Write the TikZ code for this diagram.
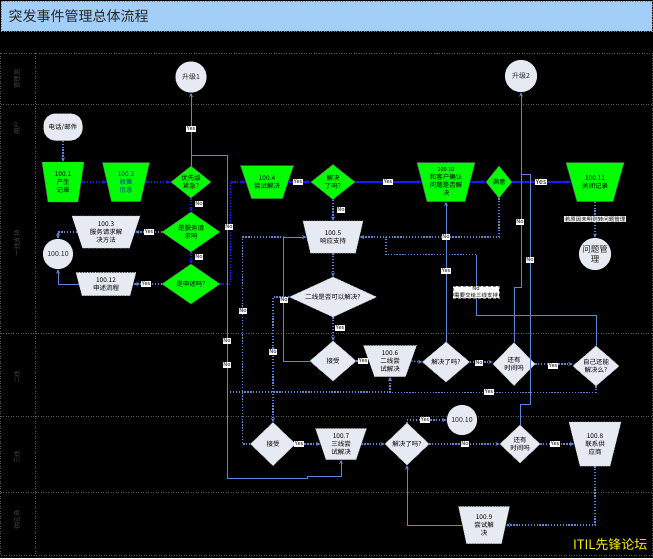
\documentclass[tikz,border=0pt]{standalone}
\usepackage{fontspec}
\setmainfont{Noto Sans CJK SC}
\usetikzlibrary{arrows.meta}
\definecolor{lblue}{HTML}{5A86DC}
\definecolor{gfill}{HTML}{00FF00}
\definecolor{lfill}{HTML}{E6EAF2}
\definecolor{tbar}{HTML}{A3CEF8}
\definecolor{gridc}{HTML}{5A5A5A}
\definecolor{lanetxt}{HTML}{444444}
\definecolor{bblue}{HTML}{1A1AFF}
\definecolor{navytxt}{HTML}{1030B0}
\tikzset{
 txt/.style={inner sep=0pt, align=center, font=\fontsize{6.5}{8}\selectfont, text=black},
 gshape/.style={fill=gfill, draw=black!60, line width=0.4pt},
 lshape/.style={fill=lfill, draw=white!60!gray, densely dotted, line width=0.6pt},
 circ/.style={circle, fill=lfill, draw=white!60!gray, densely dotted, inner sep=0pt, align=center, font=\fontsize{7}{8.5}\selectfont, text=black!85},
 ls/.style={draw=lblue, line width=0.8pt},
 ld/.style={draw=lblue, line width=1.3pt, dash pattern=on 1.3pt off 1.6pt},
 bl/.style={draw=bblue, line width=1.1pt},
 bd/.style={draw=bblue, line width=1.3pt, dash pattern=on 1.3pt off 1.6pt},
 arr/.style={-{Stealth[length=4.5pt,width=4pt]}},
 lbl/.style={fill=white, text=black, inner sep=0.7pt, font=\fontsize{5.5}{6.5}\selectfont},
 lane/.style={rotate=90, text=lanetxt, font=\fontsize{6.5}{8}\selectfont},
 gridline/.style={draw=gridc, dash pattern=on 1pt off 1.5pt, line width=0.6pt},
}
\newcommand\bt[1]{\textcolor{navytxt}{#1}}
% trapezoid: style, name, x, y, top width, bottom width, height, text
\newcommand\trap[8]{%
 \path[#1] ({#3-#5/2},{#4-#7/2}) -- ({#3+#5/2},{#4-#7/2}) -- ({#3+#6/2},{#4+#7/2}) -- ({#3-#6/2},{#4+#7/2}) -- cycle;
 \node[txt, minimum width={(#5+#6)/2*1pt}, minimum height={#7*1pt}] (#2) at (#3,#4) {#8};}
% diamond: style, name, x, y, width, height, text
\newcommand\dia[7]{%
 \path[#1] ({#3-#5/2},#4) -- (#3,{#4-#6/2}) -- ({#3+#5/2},#4) -- (#3,{#4+#6/2}) -- cycle;
 \node[txt, minimum width={#5*1pt}, minimum height={#6*1pt}] (#2) at (#3,#4) {#7};}
\begin{document}
\begin{tikzpicture}[x=1pt,y=-1pt]
\useasboundingbox (0,0) rectangle (653,558);
\fill[black] (0,0) rectangle (653,558);
% title bar
\fill[tbar] (1,1) rectangle (652,31);
\draw[gridline, draw=gray] (1,1) rectangle (652,31);
\node[anchor=west, font=\fontsize{14}{16}\selectfont, text=black!85] (title) at (5,16) {突发事件管理总体流程};
% frame and lanes
\draw[gridline] (0.5,53) rectangle (652,555);
\draw[gridline] (35,53) -- (35,555);
\draw[gridline] (0.5,104) -- (652,104);
\draw[gridline] (0.5,333) -- (652,333);
\draw[gridline] (0.5,416) -- (652,416);
\draw[gridline] (0.5,492) -- (652,492);
\node[lane] (ln1) at (17,79) {管理层};
\node[lane] (ln2) at (17,128) {用户};
\node[lane] (ln3) at (17,243) {一线支持};
\node[lane] (ln4) at (17,377) {二线};
\node[lane] (ln5) at (17,457) {三线};
\node[lane] (ln6) at (17,520) {供应商};

% shapes
\node[circ, minimum size=31pt] (up1) at (191,77) {升级1};
\node[circ, minimum size=32pt] (up2) at (521,76) {升级2};
\node[txt, rectangle, rounded corners=12pt, fill=lfill, draw=white!60!gray, densely dotted, minimum width=39pt, minimum height=27pt] (phone) at (63,127) {电话/邮件};
\trap{gshape}{n1}{63}{182}{42}{30}{40}{100.1\\产生\\记录}
\trap{gshape}{n2}{126}{182}{47}{29}{39}{\bt{100.2}\\\bt{收集}\\\bt{信息}}
\dia{gshape}{d1}{191}{182}{40}{32}{优先级\\紧急?}
\dia{gshape}{d2}{191}{232}{58}{40}{是服务请\\求吗}
\dia{gshape}{d3}{191}{284}{58}{40}{是申述吗?}
\trap{lshape}{n3}{106}{232}{68}{47}{32}{100.3\\服务请求解\\决方法}
\node[circ, minimum size=30pt] (c10a) at (58,254) {100.10};
\trap{lshape}{n12}{106}{284}{60}{48}{23}{100.12\\申述流程}
\trap{gshape}{n4}{267}{182}{53}{31}{33}{100.4\\尝试解决}
\dia{gshape}{d4}{333}{182}{44}{35}{解决\\了吗?}
\trap{lshape}{n5}{333}{237}{60}{45}{32}{100.5\\响应支持}
\trap{gshape}{n10}{446}{182}{58}{38}{39}{\fontsize{5.5}{7}\selectfont 100.10\\和客户确认\\问题是否解\\决}
\dia{gshape}{d5}{499}{182}{26}{32}{满意}
\trap{gshape}{n11}{595}{182}{58}{36}{39}{100.11\\关闭记录}
\node[circ, minimum size=32pt, font=\fontsize{8.5}{10}\selectfont] (pm) at (595,254) {问题管\\理};
\dia{lshape}{d6}{333}{297}{87}{40}{二线是否可以解决?}
\dia{lshape}{d7}{333}{361}{46}{40}{接受}
\trap{lshape}{n6}{390}{361}{53}{31}{31}{100.6\\二线尝\\试解决}
\dia{lshape}{d8}{446}{362}{47}{40}{解决了吗?}
\dia{lshape}{d9}{514}{364}{42}{43}{还有\\时间吗}
\dia{lshape}{d10}{596}{366}{46}{40}{自己还能\\解决么?}
\dia{lshape}{d11}{273}{444}{45}{43}{接受}
\trap{lshape}{n7}{341}{444}{51}{30}{31}{100.7\\三线尝\\试解决}
\dia{lshape}{d12}{407}{444}{44}{42}{解决了吗?}
\node[circ, minimum size=30pt] (c10b) at (462,420) {100.10};
\dia{lshape}{d13}{520}{444}{40}{38}{还有\\时间吗}
\trap{lshape}{n8}{595}{444}{52}{30}{44}{100.8\\联系供\\应商}
\trap{lshape}{n9}{484}{525}{51}{35}{37}{100.9\\尝试解\\决}

% connectors
\draw[ld,arr] (phone.south) -- (n1.north);
\draw[bd,arr] (n1.east) -- (n2.west);
\draw[bd,arr] (n2.east) -- (d1.west);
\draw[ls,arr] (d1.north) -- (up1.south);
\draw[bd,arr] (d1.south) -- (d2.north);
\draw[bd,arr] (d2.south) -- (d3.north);
\draw[ld,arr] (d2.west) -- (n3.east);
\draw[ld,arr] (d3.west) -- (n12.east);
\draw[ld,arr] (n3.west) -| (c10a.north);
\draw[ls,arr] (n12.west) -| (c10a.south);
\draw[bd,arr] (d3.east) -- ++(10,0) |- (n4.west);
\draw[ls,arr] ([yshift=10pt]d1.north) -| ++(36,323) -- ++(80,0) -- ++(0,-2) -| (n7.south);
\coordinate (j1) at (227,392);
\draw[ld] (j1) -- (n6.south |- j1);
\draw[bl,arr] (n4.east) -- (d4.west);
\draw[bl,arr] (d4.east) -- (n10.west);
\draw[bl,arr] (n10.east) -- (d5.west);
\draw[bl,arr] (d5.east) -- (n11.west);
\draw[ld,arr] (d4.south) -- (n5.north);
\draw[ld,arr] (d5.south) |- (n5.east);
\draw[ld,arr] (n11.south) -- (pm.north);
\draw[ld,arr] (n5.south) -- (d6.north);
\draw[ld,arr] (d6.south) -- (d7.north);
\draw[ld,arr] (d7.east) -- (n6.west);
\draw[ld,arr] (n6.east) -- (d8.west);
\draw[ls,arr] (d8.north) -- (n10.south);
\draw[ld,arr] (d8.east) -- (d8.east -| d9.west);
\draw[ld,arr] (d9.east) -- (d9.east -| d10.west);
\draw[ld,arr] (d10.south) -- ++(0,6) -| (n6.south);
\draw[ls,arr] (d9.north) -- ++(0,-55) -| (up2.south);
\draw[ls] (d13.north) -- ++(0,-20) -- ++(10,0) -- ++(0,-230) -- ++(-9,0);
\draw[ls] (d10.north) -- ++(0,-30) -- ++(-120,0) -- ++(0,-61) coordinate (k1);
\draw[ld] (k1) -- ++(-90,0) -- ++(0,-18);
\draw[ls,arr] (d7.west) -| ([xshift=-23pt]n5.west) -- (n5.west);
\draw[ld] (d11.west) -| ([xshift=-64pt]n5.west) -- ([xshift=-23pt]n5.west);
\draw[ld,arr] (d6.west) -| (d11.north);
\draw[ld,arr] (d11.east) -- (n7.west);
\draw[ld,arr] (n7.east) -- (d12.west);
\draw[ld,arr] (d12.north) |- (c10b.west);
\draw[ld,arr] (d12.east) -- (d13.west);
\draw[ld,arr] (d13.east) -- (n8.west);
\draw[ld,arr] (n8.south) |- (n9.east);
\draw[ls,arr] (n9.west) -| (d12.south);

% labels
\node[lbl] (l1) at (191,129) {Yes};
\node[lbl] (l2) at (199,204) {No};
\node[lbl] (l3) at (149,232) {Yes};
\node[lbl] (l4) at (199,257) {No};
\node[lbl] (l5) at (146,284) {Yes};
\node[lbl] (l6) at (229,227) {No};
\node[lbl] (l7) at (227,341) {No};
\node[lbl] (l8) at (227,365) {No};
\node[lbl] (l9) at (298,182) {Yes};
\node[lbl] (l10) at (388,182) {Yes};
\node[lbl] (l11) at (341,210) {No};
\node[lbl, font=\fontsize{7}{8}\selectfont] (l12) at (541,182) {Yes};
\node[lbl] (l13) at (446,237) {No};
\node[lbl] (l14) at (340,328) {Yes};
\node[lbl] (l15) at (284,300) {No};
\node[lbl] (l16) at (243,311) {No};
\node[lbl] (l17) at (273,352) {No};
\node[lbl] (l18) at (363,361) {Yes};
\node[lbl] (l19) at (446,271) {Yes};
\node[lbl] (l20) at (479,363) {No};
\node[lbl] (l21) at (553,366) {Yes};
\node[lbl] (l22) at (489,392) {Yes};
\node[lbl] (l23) at (520,222) {No};
\node[lbl] (l24) at (530,260) {No};
\node[lbl, align=center, draw=gray, densely dashed] (l25) at (476,292) {No\\需要交给三线支持};
\node[lbl] (l26) at (299,444) {Yes};
\node[lbl] (l27) at (425,420) {Yes};
\node[lbl] (l28) at (465,444) {No};
\node[lbl] (l29) at (555,444) {Yes};
\node[lbl] (l30) at (595,219) {若原因未明则转问题管理};
% watermark
\node[anchor=east, text=yellow, font=\fontsize{13}{14}\selectfont] (wm) at (651,545) {ITIL先锋论坛};
\end{tikzpicture}
\end{document}
